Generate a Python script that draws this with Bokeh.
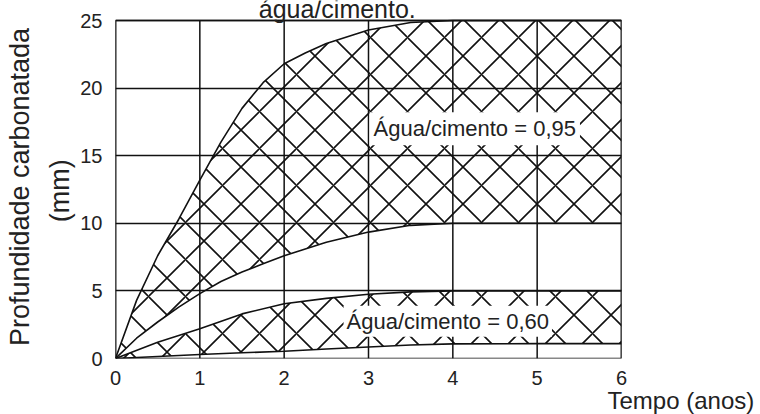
import numpy as np
from bokeh.plotting import figure
from bokeh.models import Label, FixedTicker, ColumnDataSource, Title
from bokeh.embed import file_html
from bokeh.resources import INLINE

# Carbonation depth (mm) versus time (years), bounds for each water/cement ratio
x_095_upper = [0, 0.25, 0.5, 0.75, 1.0, 1.25, 1.5, 1.75, 2.0, 2.25, 2.5, 3.0, 3.5, 4.0, 5.0, 6.0]
y_095_upper = [0, 4.3, 7.6, 10.3, 13.2, 16.0, 18.5, 20.4, 21.8, 22.6, 23.3, 24.3, 24.85, 25.0, 25.0, 25.0]

x_095_lower = [0, 0.25, 0.5, 0.75, 1.0, 1.25, 1.5, 1.75, 2.0, 2.5, 3.0, 3.5, 4.0, 5.0, 6.0]
y_095_lower = [0, 1.5, 2.7, 3.8, 4.8, 5.7, 6.4, 7.0, 7.6, 8.6, 9.35, 9.85, 10.0, 10.0, 10.0]

x_060_upper = [0, 0.5, 1.0, 1.5, 2.0, 2.5, 3.0, 3.5, 4.0, 5.0, 6.0]
y_060_upper = [0, 1.2, 2.2, 3.3, 4.05, 4.45, 4.75, 4.93, 5.0, 5.0, 5.0]

x_060_lower = [0, 0.5, 1.0, 1.5, 2.0, 2.5, 3.0, 3.5, 4.0, 5.0, 6.0]
y_060_lower = [0, 0.15, 0.3, 0.42, 0.54, 0.7, 0.85, 1.0, 1.08, 1.1, 1.1]

x_ticks = [0, 1, 2, 3, 4, 5, 6]
y_ticks = [0, 5, 10, 15, 20, 25]

label_095 = "Água/cimento = 0,95"
label_060 = "Água/cimento = 0,60"
x_title = "Tempo (anos)"
y_title = "Profundidade carbonatada\u00a0\u00a0\n(mm)\u00a0\u00a0\u00a0"
top_text = "água/cimento."

FONT = "Liberation Sans"
INK = "#111111"
TEXT = "#222222"

x0, x1 = x_ticks[0], x_ticks[-1]
y0, y1 = y_ticks[0], y_ticks[-1]

# the plotting area reaches the top edge of the canvas so the caption
# above the chart can run off it; the chart box itself stops at y1
TOP_PAD = 20.0 / 338.0
p = figure(width=760, height=414, x_range=(x0, x1),
           y_range=(y0, y1 * (1 + TOP_PAD)),
           output_backend="svg", toolbar_location=None,
           min_border_left=115, min_border_right=139,
           min_border_top=0, min_border_bottom=56)
p.background_fill_color = "white"
p.border_fill_color = "white"
p.outline_line_color = None

# axes: labels only, the chart box acts as the axis line
for ax, ticks in ((p.xaxis, x_ticks), (p.yaxis, y_ticks)):
    ax.ticker = FixedTicker(ticks=ticks)
    ax.axis_line_color = None
    ax.major_tick_line_color = None
    ax.minor_tick_line_color = None
    ax.major_label_text_font = FONT
    ax.major_label_text_font_size = "20px"
    ax.major_label_text_color = TEXT
p.xaxis.major_label_standoff = 6
p.yaxis.major_label_standoff = 7

p.yaxis.axis_label = y_title
p.yaxis.axis_label_text_font = FONT
p.yaxis.axis_label_text_font_size = "27px"
p.yaxis.axis_label_text_font_style = "normal"
p.yaxis.axis_label_text_color = TEXT
p.yaxis.axis_label_text_line_height = 1.35
p.yaxis.axis_label_standoff = 2

# grid: horizontal lines from the y grid, vertical lines stop at the box top
p.xgrid.visible = False
p.ygrid.ticker = FixedTicker(ticks=y_ticks)
p.ygrid.grid_line_color = INK
p.ygrid.grid_line_width = 1.5
p.segment(x0=x_ticks, y0=[y0] * len(x_ticks), x1=x_ticks, y1=[y1] * len(x_ticks),
          line_color=INK, line_width=1.5)
p.line([x0, x1, x1, x0, x0], [y0, y0, y1, y1, y0], line_color=INK, line_width=1.6)

# hatched bands (upper bound of the 0.95 band sampled on the lower bound's x values)
src_095 = ColumnDataSource(dict(x=x_095_lower, lo=y_095_lower,
                                hi=np.interp(x_095_lower, x_095_upper, y_095_upper)))
src_060 = ColumnDataSource(dict(x=x_060_upper, lo=y_060_lower, hi=y_060_upper))
for src in (src_095, src_060):
    p.varea(x="x", y1="lo", y2="hi", source=src, fill_alpha=0,
            hatch_pattern="diagonal_cross", hatch_scale=37,
            hatch_weight=1.6, hatch_color=INK)

# band boundaries
for xs, ys in ((x_095_upper, y_095_upper), (x_095_lower, y_095_lower),
               (x_060_upper, y_060_upper), (x_060_lower, y_060_lower)):
    p.line(xs, ys, line_color=INK, line_width=1.6)

# band labels on a white box
p.add_layout(Label(x=4.26, y=17.0, text=label_095, text_align="center",
                   text_baseline="middle", text_font=FONT, text_font_size="22px",
                   text_color=TEXT, background_fill_color="white", padding=4))
p.add_layout(Label(x=3.94, y=2.75, text=label_060, text_align="center",
                   text_baseline="middle", text_font=FONT, text_font_size="22px",
                   text_color=TEXT, background_fill_color="white", padding=3))

# caption line running off the top edge
p.add_layout(Label(x=2.63, y=25.84, text=top_text, text_align="center",
                   text_baseline="alphabetic", text_font=FONT,
                   text_font_size="25px", text_color=TEXT))

# x title sits below the axis, past the right end of the box
p.add_layout(Title(text=x_title, align="left", offset=492, standoff=-6,
                   text_font=FONT, text_font_size="24px",
                   text_font_style="normal", text_color=TEXT), "below")

open("out.html", "w").write(file_html(p, INLINE))
